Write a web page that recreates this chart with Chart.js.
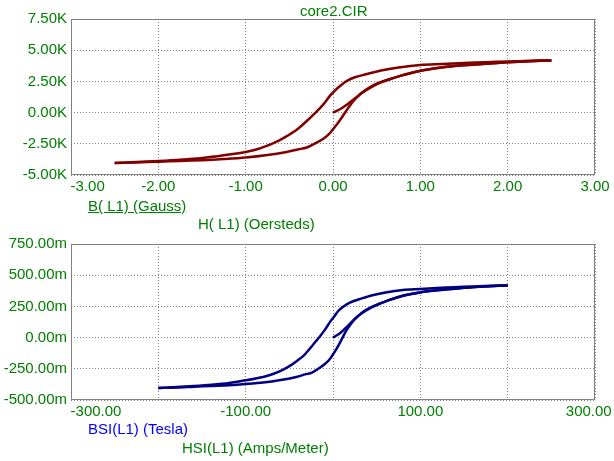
<!DOCTYPE html>
<html>
<head>
<meta charset="utf-8">
<script src="https://cdn.jsdelivr.net/npm/chart.js@4.4.0/dist/chart.umd.min.js"></script>
<style>
  body { margin: 0; background: #fff; width: 614px; height: 461px; overflow: hidden; position: relative; }
  canvas { position: absolute; left: 0; }
  .lbl { position: absolute; font: 15px "Liberation Sans", Arial, sans-serif; color: #008000; white-space: nowrap; z-index: 2; }
</style>
</head>
<body>
<div class="lbl" style="left:300px;top:2px">core2.CIR</div>
<canvas id="topChart" width="614" height="215" style="top:0"></canvas>
<div class="lbl" style="left:88px;top:197px;text-decoration:underline">B( L1) (Gauss)</div>
<div class="lbl" style="left:198px;top:215px">H( L1) (Oersteds)</div>
<canvas id="bottomChart" width="614" height="200" style="top:225px"></canvas>
<div class="lbl" style="left:88px;top:420px;color:#0000ff">BSI(L1) (Tesla)</div>
<div class="lbl" style="left:182px;top:439px">HSI(L1) (Amps/Meter)</div>
<script>
// top plot: H (Oersteds) vs B (Gauss)
const initH = [0, 0.1, 0.19, 0.28, 0.36, 0.45, 0.55, 0.65, 0.8, 1.0, 1.25, 1.5, 1.75, 2.0, 2.25, 2.5];
const initB = [0, 350, 800, 1300, 1750, 2150, 2450, 2680, 3000, 3360, 3640, 3800, 3920, 4030, 4110, 4180];

const downH = [2.5, 2.25, 2.0, 1.75, 1.5, 1.25, 1.0, 0.75, 0.55, 0.38, 0.25, 0.15, 0.08, 0.02, -0.04, -0.11, -0.2, -0.3, -0.42, -0.52, -0.62, -0.72, -0.85, -1.0, -1.25, -1.5, -1.75, -2.0, -2.25, -2.5];
const downB = [4180, 4150, 4090, 4040, 3980, 3900, 3820, 3620, 3380, 3070, 2830, 2500, 2130, 1750, 1300, 660, 0, -670, -1400, -1850, -2250, -2560, -2900, -3150, -3420, -3640, -3780, -3880, -3960, -4040];

const upH = [-2.5, -2.25, -2.0, -1.75, -1.5, -1.25, -1.0, -0.75, -0.53, -0.4, -0.3, -0.2, -0.11, -0.05, 0, 0.05, 0.1, 0.19, 0.25, 0.31, 0.38, 0.46, 0.55, 0.65, 0.8, 1.0, 1.25, 1.5, 1.75, 2.0, 2.25, 2.5];
const upB = [-4040, -4000, -3930, -3870, -3810, -3720, -3600, -3400, -3150, -2950, -2800, -2450, -2090, -1750, -1340, -900, -400, 530, 1050, 1470, 1800, 2130, 2420, 2670, 3000, 3360, 3620, 3790, 3920, 4030, 4110, 4180];

// bottom plot: HSI (A/m) vs BSI (Tesla)
const initHsi = [0, 8, 15, 22, 29, 36, 44, 52, 64, 80, 100, 119, 139, 159, 179, 200];
const initBsi = [0, 0.035, 0.08, 0.13, 0.175, 0.215, 0.245, 0.268, 0.3, 0.336, 0.364, 0.38, 0.392, 0.403, 0.411, 0.418];

const downHsi = [200, 179, 159, 139, 119, 100, 80, 60, 44, 30, 20, 12, 6, 2, -3, -9, -16, -24, -33, -41, -49, -57, -68, -80, -100, -119, -139, -159, -179, -200];
const downBsi = [0.418, 0.415, 0.409, 0.404, 0.398, 0.39, 0.382, 0.362, 0.338, 0.307, 0.283, 0.25, 0.213, 0.175, 0.13, 0.066, 0, -0.067, -0.14, -0.185, -0.225, -0.256, -0.29, -0.315, -0.342, -0.364, -0.378, -0.388, -0.396, -0.404];

const upHsi = [-200, -179, -159, -139, -119, -100, -80, -60, -42, -32, -24, -16, -9, -4, 0, 4, 8, 15, 20, 25, 30, 37, 44, 52, 64, 80, 100, 119, 139, 159, 179, 200];
const upBsi = [-0.404, -0.4, -0.393, -0.387, -0.381, -0.372, -0.36, -0.34, -0.315, -0.295, -0.28, -0.245, -0.209, -0.175, -0.134, -0.09, -0.04, 0.053, 0.105, 0.147, 0.18, 0.213, 0.242, 0.267, 0.3, 0.336, 0.362, 0.379, 0.392, 0.403, 0.411, 0.418];

const GREEN = "#008000";
const FONT = { family: "'Liberation Sans', Arial, sans-serif", size: 15 };

function pts(xs, ys) {
  return xs.map((x, i) => ({ x, y: ys[i] }));
}

function branch(xs, ys, color) {
  return {
    data: pts(xs, ys),
    showLine: true,
    borderColor: color,
    borderWidth: 2.5,
    pointRadius: 0,
    tension: 0.3
  };
}

// solid frame round the plot area
const framePlugin = {
  id: "frame",
  beforeDatasetsDraw(chart) {
    const a = chart.chartArea;
    const ctx = chart.ctx;
    ctx.save();
    ctx.strokeStyle = "#808080";
    ctx.lineWidth = 1;
    ctx.strokeRect(a.left + 0.5, a.top + 0.5, a.right - a.left - 1, a.bottom - a.top - 1);
    ctx.restore();
  }
};

function makeChart(id, datasets, xOpts, yOpts, padding) {
  new Chart(document.getElementById(id).getContext("2d"), {
    type: "scatter",
    data: { datasets },
    plugins: [framePlugin],
    options: {
      responsive: false,
      animation: false,
      layout: { autoPadding: false, padding },
      plugins: { legend: { display: false }, tooltip: { enabled: false } },
      scales: {
        x: Object.assign({
          type: "linear",
          grid: { color: "#808080", lineWidth: 1, drawTicks: false },
          border: { display: false, dash: [1, 2] },
          afterFit(scale) {
            scale.height = 25;
            scale.paddingLeft = 0;
            scale.paddingRight = 0;
          },
          afterBuildTicks(scale) {
            scale.ticks = [];
            for (let v = xOpts.min; v <= xOpts.max + 1e-9; v += xOpts.step) scale.ticks.push({ value: v });
          }
        }, xOpts.scale),
        y: {
          type: "linear",
          min: yOpts.min,
          max: yOpts.max,
          grid: { color: "#808080", lineWidth: 1, drawTicks: false },
          border: { display: false, dash: [1, 2] },
          afterFit(scale) {
            scale.width = 71;
            scale.paddingTop = 0;
            scale.paddingBottom = 0;
          },
          afterBuildTicks(scale) {
            scale.ticks = [];
            for (let v = yOpts.min; v <= yOpts.max + 1e-9; v += yOpts.step) scale.ticks.push({ value: v });
          },
          ticks: { color: GREEN, font: FONT, padding: 4, callback: yOpts.format }
        }
      }
    }
  });
}

makeChart("topChart",
  [branch(initH, initB, "#800000"), branch(downH, downB, "#800000"), branch(upH, upB, "#800000")],
  {
    min: -3, max: 3, step: 1,
    scale: {
      min: -3, max: 3,
      ticks: {
        color: GREEN, font: FONT, padding: 3, maxRotation: 0, autoSkip: false,
        callback: (v) => {
          const s = (Math.round(v * 100) / 100).toFixed(2);
          return v <= -3 ? "        " + s : s;
        }
      }
    }
  },
  { min: -5000, max: 7500, step: 2500, format: (v) => (Math.round(v) / 1000).toFixed(2) + "K" },
  { top: 19, right: 19, left: 0, bottom: 15 }
);

makeChart("bottomChart",
  [branch(initHsi, initBsi, "#000080"), branch(downHsi, downBsi, "#000080"), branch(upHsi, upBsi, "#000080")],
  {
    min: -300, max: 300, step: 100,
    scale: {
      min: -300, max: 300,
      ticks: {
        color: GREEN, font: FONT, padding: 3, maxRotation: 0, autoSkip: false,
        callback: (v) => {
          const r = Math.round(v);
          if (r % 200 === 0) return "";
          const s = r.toFixed(2);
          if (r <= -300) return "            " + s;
          if (r >= 300) return s + "   ";
          return s;
        }
      }
    }
  },
  { min: -0.5, max: 0.75, step: 0.25, format: (v) => (Math.round(v * 1000)).toFixed(2) + "m" },
  { top: 19, right: 19, left: 0, bottom: 0 }
);
</script>
</body>
</html>
